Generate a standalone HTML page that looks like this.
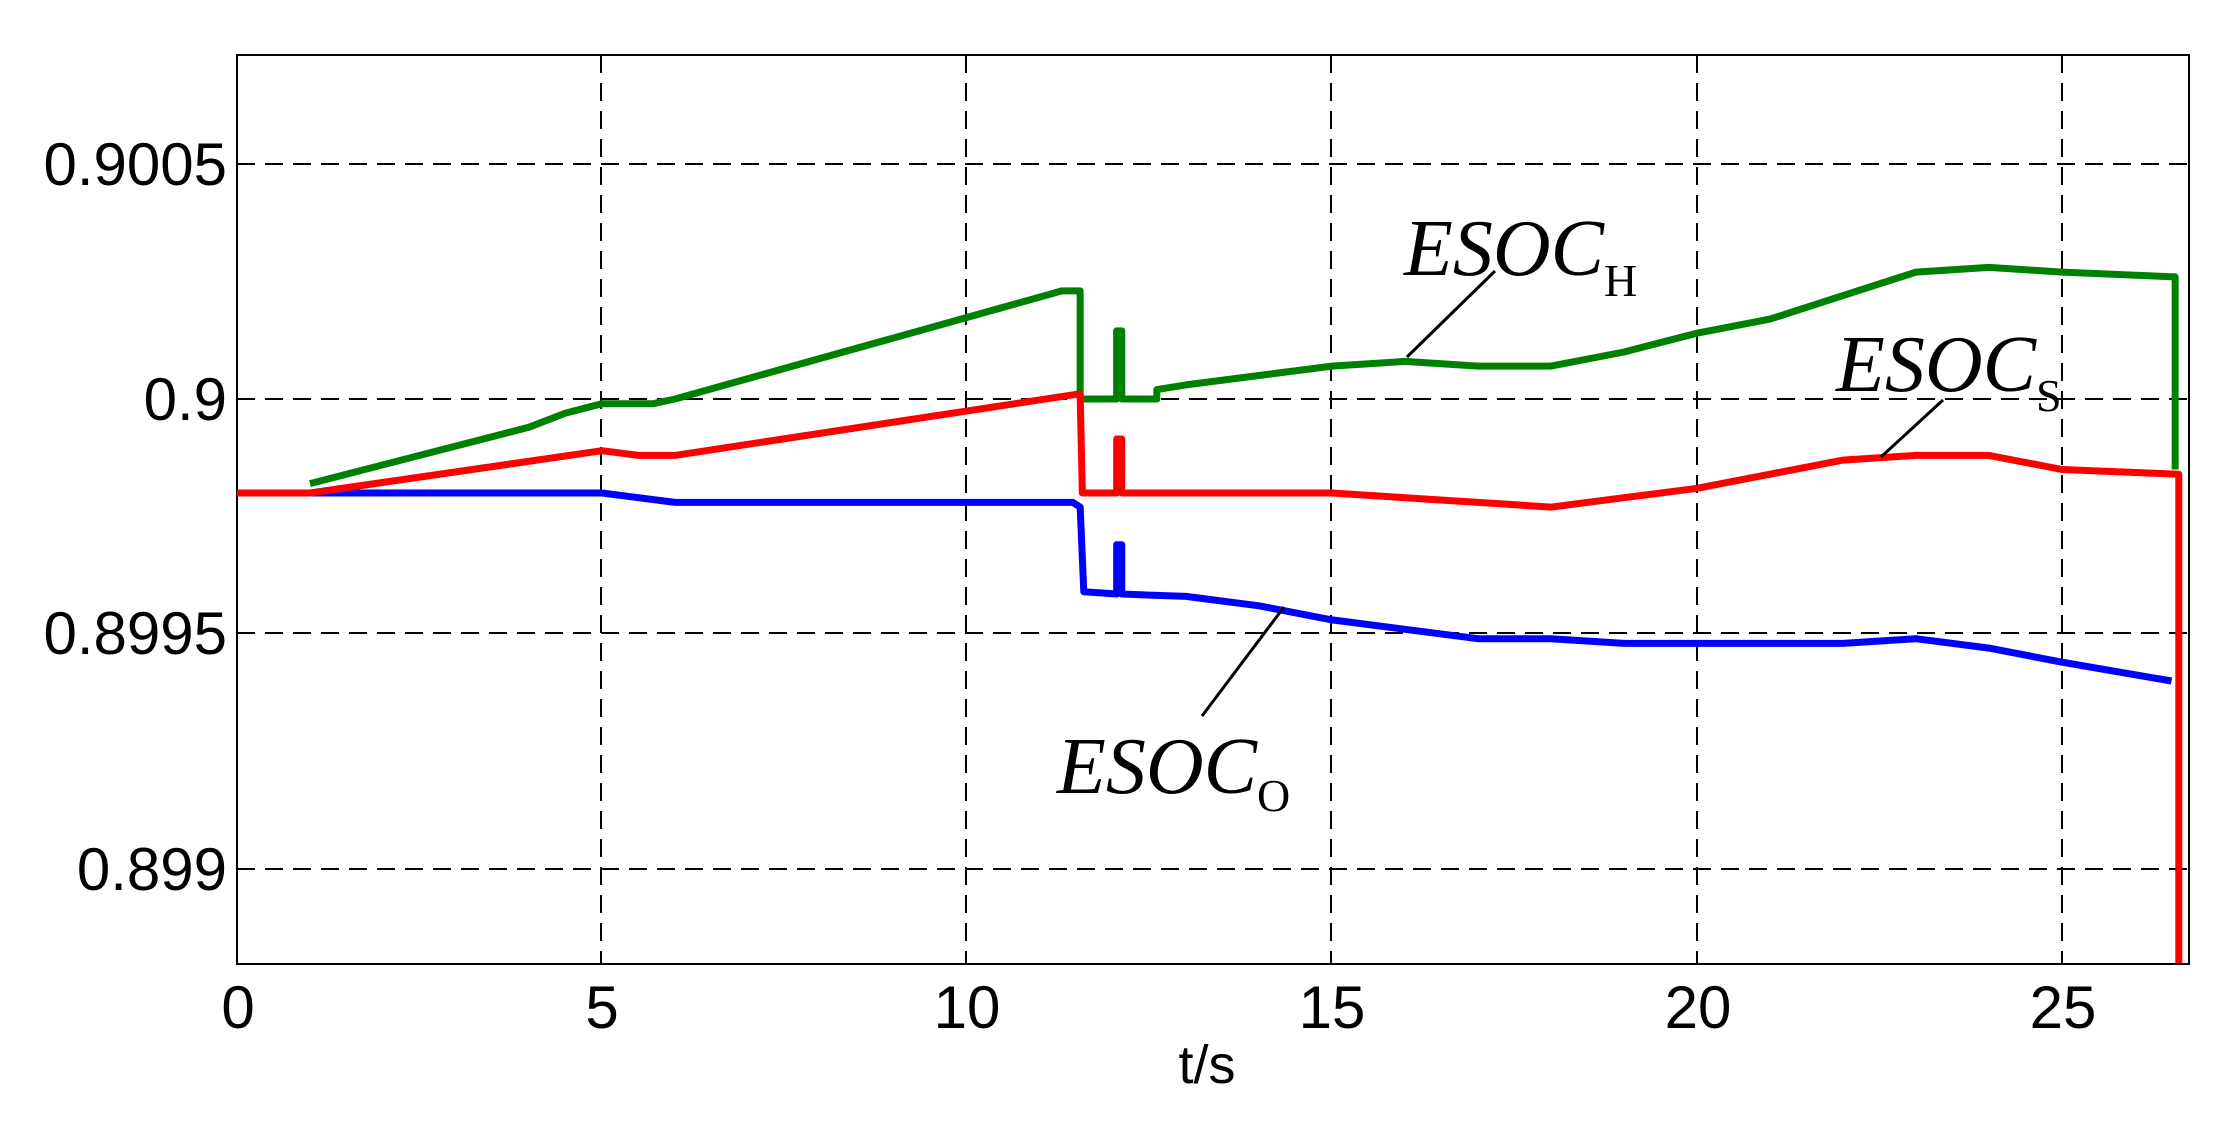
<!DOCTYPE html>
<html><head><meta charset="utf-8"><style>
html,body{margin:0;padding:0;background:#fff;}
svg{display:block;}
.tk{font-family:"Liberation Sans",Arial,sans-serif;font-size:60px;fill:#000;}
.an{font-family:"Liberation Serif",serif;font-style:italic;font-size:80px;fill:#000;}
.sb{font-family:"Liberation Serif",serif;font-size:46px;fill:#000;}
</style></head><body>
<svg width="2237" height="1146" viewBox="0 0 2237 1146" xmlns="http://www.w3.org/2000/svg">
<rect width="2237" height="1146" fill="#fff"/>
<g stroke="#000" stroke-width="2" stroke-dasharray="18 10" fill="none">
<line x1="601" y1="55" x2="601" y2="964"/>
<line x1="966" y1="55" x2="966" y2="964"/>
<line x1="1331" y1="55" x2="1331" y2="964"/>
<line x1="1697" y1="55" x2="1697" y2="964"/>
<line x1="2062" y1="55" x2="2062" y2="964"/>
<line x1="237" y1="164" x2="2189" y2="164"/>
<line x1="237" y1="399" x2="2189" y2="399"/>
<line x1="237" y1="633" x2="2189" y2="633"/>
<line x1="237" y1="869" x2="2189" y2="869"/>
</g>
<rect x="237" y="55" width="1952" height="909" fill="none" stroke="#000" stroke-width="2"/>
<g transform="matrix(73 0 0 -4.7 237 399)" fill="none" stroke-width="7" stroke-linejoin="round">
<polyline vector-effect="non-scaling-stroke" stroke="#0000ff" points="0,-20 5,-20 5.5,-21 6,-22 11.45,-22 11.55,-23 11.6,-41 12.05,-41.5 12.05,-31 12.12,-31 12.12,-41.5 13,-42 14,-44 15,-47 16,-49 17,-51 18,-51 19,-52 20,-52 21,-52 22,-52 23,-51 24,-53 25,-56 26.5,-60"/>
<polyline vector-effect="non-scaling-stroke" stroke="#008000" points="1,-18 4,-6 4.5,-3 5,-1 5.7,-1 6,0 11.3,23 11.55,23 11.55,0 12.05,0 12.05,14.5 12.12,14.5 12.12,0 12.6,0 12.6,2 13,3 14,5 15,7 16,8 17,7 18,7 19,10 20,14 21,17 22,22 23,27 24,28 25,27 26.5,26 26.55,26 26.55,-15"/>
<polyline vector-effect="non-scaling-stroke" stroke="#ff0000" points="0,-20 1,-20 5,-11 5.5,-12 6,-12 11.5,1 11.55,1 11.58,-20 12.05,-20 12.05,-8.5 12.12,-8.5 12.12,-20 13,-20 15,-20 16,-21 17,-22 18,-23 19,-21 20,-19 21,-16 22,-13 23,-12 24,-12 25,-15 26.6,-16 26.6,-120"/>
</g>
<g stroke="#000" stroke-width="3">
<line x1="1495" y1="271" x2="1407" y2="357"/>
<line x1="1943" y1="400" x2="1881" y2="457"/>
<line x1="1202" y1="716" x2="1284" y2="607"/>
</g>
<text class="an" x="1404" y="275">ESOC</text><text class="sb" x="1604" y="296">H</text>
<text class="an" x="1836" y="391">ESOC</text><text class="sb" x="2036" y="411">S</text>
<text class="an" x="1057" y="793">ESOC</text><text class="sb" x="1257" y="811">O</text>
<g class="tk" text-anchor="end">
<text x="227" y="185">0.9005</text>
<text x="227" y="420">0.9</text>
<text x="227" y="654">0.8995</text>
<text x="227" y="890">0.899</text>
</g>
<g class="tk" text-anchor="middle">
<text x="238" y="1028">0</text>
<text x="602" y="1028">5</text>
<text x="967" y="1028">10</text>
<text x="1332" y="1028">15</text>
<text x="1698" y="1028">20</text>
<text x="2063" y="1028">25</text>
<text x="1207" y="1083" style="font-size:54px">t/s</text>
</g>
</svg>
</body></html>
